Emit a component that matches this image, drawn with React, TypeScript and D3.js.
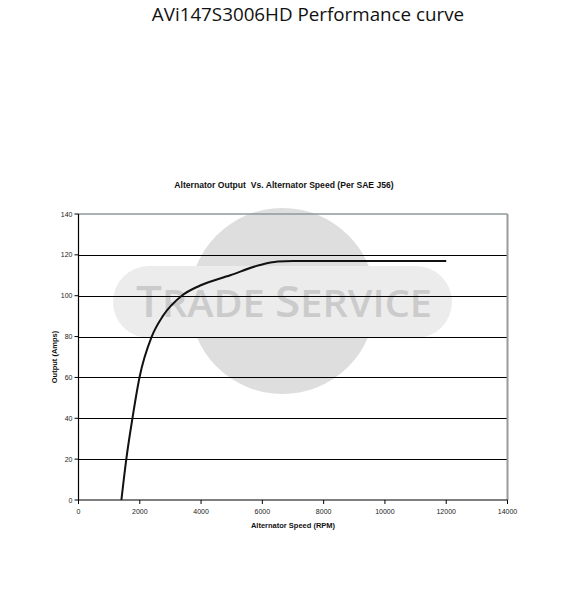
import React from "react";
import * as d3 from "d3";

// Alternator output curve (SAE J56)
const speedRpm = [1400, 1560, 1760, 1990, 2390, 2750, 3370, 3970, 4950, 5920, 6500, 7000, 8000, 10000, 12000];
const outputAmps = [0, 20, 40, 60, 80, 90, 100, 105, 110, 115, 116.7, 117, 117, 117, 117];
const xTicks = [0, 2000, 4000, 6000, 8000, 10000, 12000, 14000];
const yTicks = [0, 20, 40, 60, 80, 100, 120, 140];

const pageTitle = "AVi147S3006HD Performance curve";
const chartTitle = "Alternator Output  Vs. Alternator Speed (Per SAE J56)";
const xTitle = "Alternator Speed (RPM)";
const yTitle = "Output (Amps)";

const W = 567;
const H = 601;
const plot = { left: 78.5, right: 507.5, top: 214, bottom: 500 };

export default function App() {
  const x = d3.scaleLinear().domain([0, 14000]).range([plot.left, plot.right]);
  const y = d3.scaleLinear().domain([0, 140]).range([plot.bottom, plot.top]);
  const pts = speedRpm.map((s, i) => [s, outputAmps[i]] as [number, number]);
  const line = d3
    .line<[number, number]>()
    .x((d) => x(d[0]))
    .y((d) => y(d[1]))
    .curve(d3.curveMonotoneX);

  const labelFont = "'Liberation Sans', Arial, sans-serif";

  return (
    <svg
      width={W}
      height={H}
      viewBox={`0 0 ${W} ${H}`}
      style={{ position: "absolute", left: 0, top: 0, background: "#fff" }}
    >
      <rect x={0} y={0} width={W} height={H} fill="#fff" />
      <text
        x={308}
        y={21}
        textAnchor="middle"
        fontFamily="'Open Sans', 'Noto Sans', sans-serif"
        fontSize={18.8}
        fill="#111"
      >
        {pageTitle}
      </text>

      <text
        x={284}
        y={188}
        textAnchor="middle"
        fontFamily={labelFont}
        fontWeight="bold"
        fontSize={8.6}
        fill="#111"
        style={{ whiteSpace: "pre" }}
      >
        {chartTitle}
      </text>

      {/* watermark */}
      <g>
        <circle cx={282.5} cy={301} r={93} fill="#dedede" />
        <rect x={113} y={266} width={339} height={72} rx={36} ry={36} fill="#ececec" />
        <text
          x={136}
          y={317}
          fontFamily="'Open Sans', 'Noto Sans', sans-serif"
          fontWeight={600}
          fill="#cbcbcb"
          textLength={296}
          lengthAdjust="spacingAndGlyphs"
        >
          <tspan fontSize={44}>T</tspan>
          <tspan fontSize={38}>RADE </tspan>
          <tspan fontSize={44}>S</tspan>
          <tspan fontSize={38}>ERVICE</tspan>
        </text>
      </g>

      {/* horizontal gridlines */}
      {yTicks
        .filter((t) => t > 0 && t < 140)
        .map((t) => (
          <line
            key={`g${t}`}
            x1={plot.left}
            x2={plot.right}
            y1={Math.round(y(t)) + 0.5}
            y2={Math.round(y(t)) + 0.5}
            stroke="#000"
            strokeWidth={1}
          />
        ))}
      {/* plot frame: top and right in gray */}
      <line x1={plot.left} x2={plot.right} y1={y(140)} y2={y(140)} stroke="#8c9a9a" strokeWidth={1.6} />
      <line x1={plot.right} x2={plot.right} y1={plot.top} y2={plot.bottom} stroke="#9a9a9a" strokeWidth={2} />

      {/* axes */}
      <line x1={plot.left} x2={plot.left} y1={plot.top} y2={plot.bottom} stroke="#000" strokeWidth={1.2} />
      <line x1={plot.left} x2={plot.right} y1={plot.bottom} y2={plot.bottom} stroke="#000" strokeWidth={1.2} />
      {yTicks.map((t) => (
        <g key={`yt${t}`}>
          <line x1={plot.left - 4} x2={plot.left} y1={y(t)} y2={y(t)} stroke="#000" strokeWidth={1} />
          <text
            x={plot.left - 6}
            y={y(t) + 2.5}
            textAnchor="end"
            fontFamily={labelFont}
            fontSize={7}
            fill="#222"
          >
            {t}
          </text>
        </g>
      ))}
      {xTicks.map((t) => (
        <g key={`xt${t}`}>
          <line x1={x(t)} x2={x(t)} y1={plot.bottom} y2={plot.bottom + 4} stroke="#000" strokeWidth={1} />
          <text
            x={x(t)}
            y={plot.bottom + 14}
            textAnchor="middle"
            fontFamily={labelFont}
            fontSize={7}
            fill="#222"
          >
            {t}
          </text>
        </g>
      ))}

      <text
        x={293}
        y={528}
        textAnchor="middle"
        fontFamily={labelFont}
        fontWeight="bold"
        fontSize={7.5}
        fill="#111"
      >
        {xTitle}
      </text>
      <text
        transform={`translate(57, ${357}) rotate(-90)`}
        textAnchor="middle"
        fontFamily={labelFont}
        fontWeight="bold"
        fontSize={7.5}
        fill="#111"
      >
        {yTitle}
      </text>

      {/* output curve */}
      <path d={line(pts) ?? ""} fill="none" stroke="#111" strokeWidth={2} strokeLinejoin="round" />
    </svg>
  );
}
